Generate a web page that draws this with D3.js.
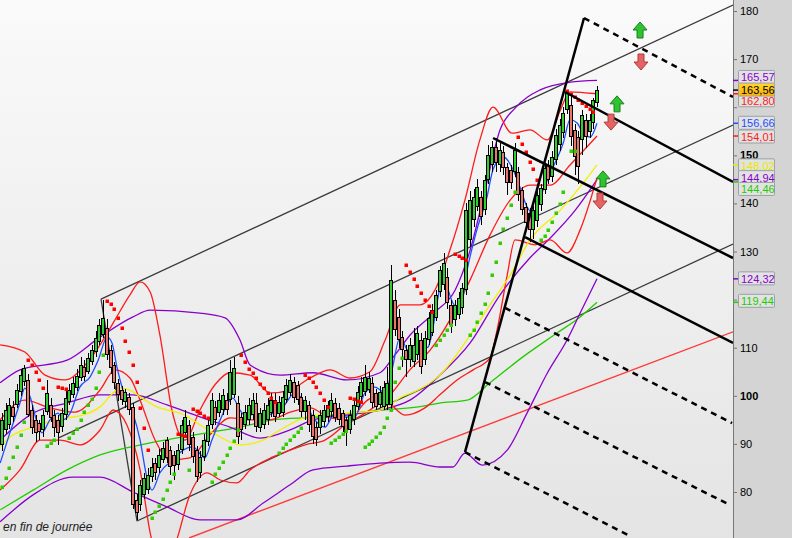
<!DOCTYPE html>
<html>
<head>
<meta charset="utf-8">
<script src="https://cdn.jsdelivr.net/npm/d3@7"></script>
<style>
  body { margin: 0; background: #fff; overflow: hidden; }
  svg { display: block; }
</style>
</head>
<body>
<div id="chart"></div>
<script>
// daily bars: [open, high, low, close]
var candles = [
  [89.8,96.5,88.5,94.9],[92.9,98.5,92.0,97.05],[94.0,99.5,93.0,98.1],[97.7,99.0,94.5,95.6],[98.1,102.5,97.5,101.2],
  [100.8,105.5,100.0,104.3],[102.9,106.4,102.0,105.8],[103.3,104.5,95.5,96.0],[97.05,98.0,92.0,93.3],[95.0,96.0,90.5,92.3],
  [94.3,95.0,90.8,92.5],[92.9,97.0,91.5,96.0],[96.6,103.3,96.0,100.6],[98.1,99.5,94.5,95.4],[96.0,97.0,91.5,93.3],
  [95.0,96.0,89.8,92.3],[93.5,97.5,92.5,96.4],[96.0,101.0,95.0,99.5],[98.7,102.5,98.0,101.2],[100.2,104.0,99.5,102.7],
  [101.6,105.5,101.0,104.1],[103.7,108.0,103.0,106.4],[106.0,107.5,103.0,103.9],[105.0,109.0,104.5,107.9],[107.0,110.5,106.5,109.5],
  [109.1,113.5,108.0,112.0],[111.2,116.0,110.5,114.7],[112.6,120.0,112.0,116.2],[114.1,116.0,107.5,108.5],[109.5,110.5,104.5,105.8],
  [106.4,107.0,101.5,102.7],[102.7,103.5,99.0,100.2],[101.2,102.0,98.0,99.1],[98.7,101.5,97.5,100.8],[99.7,100.5,96.0,97.05],
  [97.7,98.5,76.5,77.3],[78.3,79.5,74.2,75.6],[77.3,82.5,76.0,81.5],[79.4,84.0,78.5,82.9],[80.4,85.0,79.5,83.5],
  [83.1,87.0,82.0,85.2],[86.0,87.0,82.5,84.0],[85.0,89.0,84.0,87.7],[86.7,90.5,86.0,89.2],[90.8,91.5,86.0,87.1],
  [88.7,89.5,83.5,85.2],[87.7,88.5,82.5,85.4],[85.6,90.0,84.5,88.7],[88.7,95.0,88.0,93.9],[92.3,97.0,91.5,95.6],
  [93.9,95.0,88.5,89.8],[91.4,92.5,86.0,87.3],[88.7,89.5,82.0,83.1],[84.0,88.5,83.0,87.3],[87.3,92.0,86.5,90.8],
  [90.4,95.0,89.5,93.9],[93.9,100.5,93.0,99.1],[97.7,99.0,94.0,95.0],[96.4,100.5,95.5,99.1],[97.05,101.5,96.0,100.2],
  [99.1,100.5,96.0,97.05],[99.1,107.5,98.0,104.9],[100.2,108.1,99.5,105.8],[98.5,100.0,90.0,91.4],[95.6,96.5,90.8,92.9],
  [93.9,98.0,93.0,96.6],[95.0,99.5,94.0,98.1],[96.0,100.5,95.0,99.1],[98.5,100.5,92.5,93.5],[93.3,97.5,92.5,96.4],
  [93.9,98.5,93.0,97.05],[95.0,99.5,94.0,98.1],[96.4,100.5,95.5,99.1],[99.1,100.5,94.5,95.6],[96.2,100.0,95.5,98.7],
  [96.4,101.0,95.5,99.7],[99.1,103.5,98.5,102.3],[100.6,104.5,100.0,103.3],[102.9,104.0,98.5,99.5],[102.3,103.0,98.0,99.1],
  [99.7,100.5,95.5,96.6],[96.6,100.0,95.0,99.1],[98.1,99.0,92.5,93.9],[96.0,97.0,90.0,91.4],[93.5,94.5,89.5,90.8],
  [93.3,97.0,92.0,96.0],[94.5,98.0,93.5,97.05],[95.6,99.0,94.5,98.1],[96.6,100.5,95.5,99.1],[98.5,99.5,94.5,95.4],
  [97.5,98.5,94.0,95.0],[96.4,97.0,92.5,93.5],[95.0,95.5,89.5,92.3],[92.9,97.0,92.0,96.0],[95.0,99.0,94.0,98.1],
  [97.7,102.0,97.0,100.8],[99.7,104.0,99.0,102.9],[100.8,106.5,100.0,103.9],[101.2,105.0,100.5,103.7],[102.7,104.0,97.5,98.5],
  [100.6,101.5,97.0,97.7],[98.1,102.0,97.5,100.8],[97.7,103.0,97.0,101.8],[98.1,106.0,97.0,102.7],[98.1,127.2,97.0,124.1],
  [119.9,122.0,112.5,113.7],[116.4,118.0,110.0,111.6],[112.2,113.5,106.0,109.5],[109.5,110.5,104.0,107.4],[107.4,112.0,106.0,110.6],
  [107.0,114.0,106.0,110.6],[108.5,114.5,107.5,113.1],[111.6,113.0,104.5,106.0],[107.4,113.5,106.5,112.0],[111.6,117.5,110.5,116.2],
  [113.1,119.0,112.5,117.8],[116.2,122.0,115.5,121.0],[121.6,127.0,120.5,126.2],[123.0,129.7,122.0,127.6],[124.7,126.5,118.0,119.3],
  [118.9,120.0,113.0,114.7],[115.8,120.0,114.5,118.9],[116.8,121.5,116.0,120.3],[118.3,123.5,117.0,122.4],[122.0,140.0,121.0,138.6],
  [132.4,142.5,131.0,140.7],[136.5,143.0,135.0,141.3],[139.3,145.0,138.5,143.4],[141.3,142.5,135.5,137.2],[138.6,146.0,137.5,144.9],
  [144.9,152.2,144.0,150.1],[148.0,153.0,146.5,151.7],[151.7,153.5,146.5,148.4],[148.0,152.5,146.5,151.1],[150.7,152.0,146.0,147.4],
  [147.6,148.5,141.7,144.2],[146.9,148.0,143.0,144.2],[146.5,152.5,145.5,151.1],[146.5,147.5,140.5,141.7],[142.8,143.5,137.5,138.6],
  [139.3,140.0,134.5,136.0],[138.0,139.0,132.0,134.5],[134.5,139.5,132.5,138.6],[136.2,142.5,135.0,141.7],[139.7,144.0,138.5,143.2],
  [142.8,148.5,142.0,147.4],[148.0,149.0,144.0,144.9],[145.5,151.0,144.5,149.7],[149.0,155.5,148.0,154.2],[152.1,157.5,151.0,156.3],
  [154.6,160.0,153.5,158.8],[159.4,163.6,158.5,162.9],[160.5,162.5,152.0,153.8],[155.3,156.5,146.0,149.7],[153.8,155.0,144.0,147.6],
  [153.2,159.5,150.0,158.4],[157.3,158.5,151.5,153.8],[154.9,158.5,153.5,157.3],[156.7,162.0,155.5,161.5],[160.9,164.5,160.0,163.56]
];

// indicator curves: [bar, price]
var blueLine = [[-0.5,86.0],[2.1,92.3],[4.8,98.5],[6.1,101.6],[7.5,99.8],[9.4,94.4],[10.7,92.3],[12.8,95.0],[15.0,96.4],
  [16.3,95.0],[18.2,96.4],[20.8,101.8],[23.5,103.9],[25.7,107.4],[28.1,112.2],[29.4,111.0],[30.7,106.0],[32.3,101.2],
  [35.0,96.4],[36.9,90.8],[38.7,83.1],[40.1,80.4],[42.2,84.0],[45.7,86.7],[48.4,88.7],[51.0,89.4],[54.2,87.1],[56.1,90.8],
  [58.3,95.0],[61.7,99.5],[63.6,97.0],[65.5,95.6],[67.6,96.4],[69.8,95.6],[72.4,96.4],[75.1,97.7],[78.3,100.6],[81.0,98.5],
  [83.6,95.0],[86.3,93.5],[89.0,96.4],[91.7,95.6],[94.3,95.6],[97.0,100.6],[99.7,101.8],[102.4,100.6],[104.2,105.4],
  [106.4,112.2],[108.5,109.5],[111.2,109.5],[113.8,110.1],[117.9,124.1],[120.5,119.3],[122.4,117.8],[124.3,126.2],
  [126.9,134.5],[129.6,141.3],[131.2,147.0],[133.9,149.7],[136.6,147.0],[138.4,143.4],[140.3,139.3],[141.9,138.0],
  [144.6,142.8],[147.3,147.6],[150.0,152.6],[151.8,157.4],[153.7,156.7],[155.3,154.6],[157.2,153.8],[159,156.66]];
var yellowLine = [[-0.5,89.4],[2.1,91.4],[8.3,93.5],[12.8,94.6],[17.4,95.4],[21.6,96.0],[26.2,97.7],[29.7,100.6],[31.5,101.6],
  [34.2,101.2],[36.9,99.8],[41.4,97.7],[47.6,96.4],[56.4,92.3],[63.6,89.8],[69.8,90.8],[74.3,92.9],[83.1,96.0],[92.2,96.4],
  [101.0,97.0],[106.9,99.8],[111.2,101.2],[117.0,104.3],[125.1,112.6],[130.4,118.9],[135.8,125.1],[141.1,132.4],
  [149.2,138.6],[155.3,144.2],[159,148.02]];
var greenLine = [[-0.5,76.3],[8.3,80.4],[17.4,84.6],[26.2,87.7],[39.6,90.2],[54.8,92.3],[63.6,93.5],[72.4,95.0],[84.4,95.6],
  [93.5,96.4],[102.4,97.1],[111.2,97.7],[117.0,98.5],[124.3,99.1],[130.4,102.7],[139.2,108.1],[148.4,113.1],[154.5,116.4],
  [159,119.44]];
var purpleUp = [[-0.5,102.7],[4.8,105.4],[17.4,107.4],[26.2,112.2],[35.0,116.4],[39.6,117.8],[52.9,117.2],[59.6,116.2],
  [63.6,111.6],[66.3,106.4],[74.3,104.3],[83.1,104.8],[92.2,103.3],[101.0,104.8],[105.0,108.5],[109.0,112.6],[115.7,117.4],
  [121.1,122.0],[125.1,130.3],[129.1,142.8],[133.1,155.3],[137.1,159.8],[143.8,163.6],[151.8,165.2],[159,165.57]];
var purpleMid = [[-0.5,90.8],[8.3,96.4],[17.4,98.5],[26.2,100.2],[35.0,100.2],[44.1,98.1],[52.9,95.6],[60.9,93.5],
  [69.0,91.2],[77.0,92.9],[83.1,95.0],[92.2,96.0],[101.0,97.05],[109.0,99.1],[117.0,104.3],[125.1,111.0],[133.1,121.0],
  [141.1,128.7],[146.5,132.8],[153.2,138.6],[159,144.94]];
var purpleLow = [[-0.5,73.8],[8.3,79.4],[19.0,83.1],[26.2,83.1],[35.0,80.0],[44.1,76.9],[52.9,74.2],[62.8,74.2],[69.8,77.7],
  [77.0,81.5],[83.1,84.6],[92.2,85.4],[101.0,86.0],[109.0,86.2],[117.0,85.2],[120.5,85.2],[123.7,88.1],[128.3,85.6],
  [135.0,88.7],[140.3,96.4],[145.7,104.7],[151.0,111.6],[154.5,117.2],[159,124.32]];
var redUp = [[-0.5,110.6],[6.1,109.1],[11.5,104.3],[16.8,103.3],[22.2,106.4],[26.2,110.6],[30.2,115.8],[34.2,121.0],
  [36.9,123.7],[39.6,121.6],[42.2,112.6],[45.4,97.05],[48.9,90.8],[52.9,97.05],[56.9,102.3],[60.9,104.8],[66.3,104.3],
  [71.6,100.6],[77.0,101.2],[82.3,103.7],[87.7,105.4],[93.0,103.7],[98.3,105.0],[102.4,111.6],[106.4,118.9],[111.7,118.9],
  [115.7,122.0],[119.7,130.3],[123.7,140.7],[127.7,153.2],[131.2,160.0],[136.3,154.6],[141.1,155.3],[145.7,153.2],
  [149.2,159.4],[151.8,163.2],[155.8,163.0],[159,162.80]];
var redMid = [[-0.5,95.0],[6.1,99.1],[12.8,97.5],[19.5,96.6],[26.2,101.2],[30.2,105.4],[34.2,103.7],[36.9,99.1],[40.9,90.8],
  [44.9,86.7],[50.2,87.1],[55.6,91.9],[60.9,95.4],[66.3,95.0],[71.6,95.0],[77.0,96.6],[82.3,97.5],[87.7,95.4],[93.0,95.0],
  [98.3,97.05],[103.7,100.2],[109.0,105.4],[114.4,109.5],[119.7,115.8],[125.1,124.1],[130.4,133.4],[135.8,140.7],
  [141.1,143.8],[146.5,143.8],[151.8,148.0],[159,154.01]];
var redLow = [[-0.5,80.4],[4.8,84.6],[10.2,90.8],[15.5,90.8],[20.8,89.8],[26.2,92.9],[29.7,97.05],[33.4,93.9],[36.9,84.6],
  [39.6,71.5],[42.2,64.8],[46.2,69.0],[50.2,79.4],[54.8,84.0],[58.3,82.5],[62.8,81.9],[66.3,84.6],[72.4,87.3],[77.0,88.7],
  [81.0,89.8],[86.3,90.8],[93.5,95.4],[98.9,99.5],[102.4,99.1],[107.7,96.0],[113.0,97.5],[117.0,100.2],[121.6,103.3],
  [125.9,105.4],[130.4,107.9],[132.3,113.7],[135.0,125.1],[137.1,132.4],[142.5,131.4],[146.5,132.4],[151.0,129.7],
  [154.5,134.5],[159,145.3]];

// parabolic stop dots: [bar, price]
var sarGreen = [[0,81.0],[1,82.9],[2,85.0],[3,87.3],[4,89.4],[5,91.9],[6,94.6],[12,89.6],[13,90.2],[14,90.8],
  [18,91.2],[19,92.3],[20,93.1],[21,95.0],[22,96.6],[23,98.1],[24,99.3],[25,101.6],[26,104.9],[27,108.5],
  [40,74.6],[41,75.8],[42,77.1],[43,78.5],[44,80.4],[45,82.1],[46,83.7],[50,84.5],
  [56,82.1],[57,83.7],[58,85.0],[59,86.2],[60,87.7],[61,89.2],[62,90.6],[63,92.9],
  [74,88.1],[75,89.2],[76,90.0],[77,90.8],[78,91.6],[79,92.4],[80,93.3],[88,90.2],[89,90.8],[90,91.4],[91,92.1],[92,92.7],
  [97,89.4],[98,90.0],[99,90.6],[100,91.4],[101,92.3],[102,93.6],[103,95.4],[104,97.1],[105,102.9],[106,105.8],[107,107.9],
  [116,110.6],[117,111.6],[118,112.6],[119,113.7],[120,114.7],
  [125,112.6],[126,113.7],[127,115.4],[128,117.2],[129,119.1],[130,121.4],[131,125.1],[132,127.8],[133,131.8],[134,134.7],
  [135,136.9],[136,139.7],[137,142.4],[144,132.4],[145,133.2],[146,134.5],[147,136.1],[148,138.0],[149,139.9],[150,142.4],
  [152,150.9],[153,150.9]];
var sarRed = [[7,107.5],[8,106.4],[9,104.9],[10,103.3],[11,101.6],[15,101.8],[16,101.6],[17,101.4],
  [28,119.7],[29,119.1],[30,118.0],[31,116.2],[32,114.1],[33,111.4],[34,109.1],[35,106.4],[36,102.9],[37,97.5],[38,93.3],[39,88.7],
  [47,92.1],[48,91.9],[49,91.7],[51,97.3],[52,96.9],[53,96.4],[54,95.8],[55,95.4],
  [64,108.5],[65,107.0],[66,105.6],[67,104.8],[68,103.7],[69,102.5],[70,101.6],[71,100.6],[72,99.6],[73,98.7],
  [81,104.3],[82,103.7],[83,102.9],[84,101.8],[85,100.6],[86,99.1],[87,97.7],[93,99.5],[94,99.3],[95,99.0],[96,98.7],
  [108,127.2],[109,125.7],[110,124.3],[111,122.8],[112,121.4],[113,119.9],[114,118.7],[115,117.4],
  [121,129.5],[122,129.1],[123,128.7],[124,128.3],
  [138,153.8],[139,152.4],[140,150.7],[141,148.6],[142,147.2],[143,144.9],
  [151,163.4],[152,162.7],[153,162.1],[154,161.5],[155,160.9],[156,160.3],[157,159.6],[158,159.0]];

// drawn trend tools: pairs of [bar, price]
var thinLines = [
  [[26.46,120.1],[195.35,181.25]],
  [[14.97,91.2],[195.35,156.3]],
  [[36.08,73.97],[195.35,131.56]],
  [[26.46,120.1],[36.08,73.97]]
];
var redTrend = [[49.97,70.44],[195.35,113.3]];
var forkSolid = [
  [[123.73,88.3],[155.53,178.55]],
  [[150.46,163.16],[195.35,144.45]],
  [[131.22,153.6],[195.35,128.65]],
  [[139.77,133.0],[195.35,110.98]]
];
var forkDashed = [
  [[155.53,178.55],[195.35,162.12]],
  [[134.42,118.26],[195.09,94.34]],
  [[129.08,102.87],[194.55,77.3]],
  [[123.73,88.3],[167.29,71.06]]
];

// alert arrows: up arrows above the lines, down arrows below
var alertUpBar = [170.5, 164.35, 160.6];
var alertUp = [176.05, 160.7, 145.1];
var alertDownBar = [170.76, 162.75, 159.8];
var alertDown = [169.4, 156.9, 140.5];

var priceTicks = [80, 90, 100, 110, 120, 130, 140, 150, 160, 170, 180];
var hiddenTicks = [120, 160];
var boldTicks = [100, 150];

// last values on the right scale, in drawing order
var lastVals = [124.32, 119.44, 156.66, 154.01, 148.02, 144.94, 144.46, 165.57, 162.80, 163.56];
var lastColors = ["#8800cc", "#22cc00", "#1f4fff", "#ff1a1a", "#e8e800", "#8800cc", "#22cc00", "#8800cc", "#ff1a1a", "#000000"];
var lastShift = [0, -1, 0, 1, 1, -2, 7.5, -3, 7, 0];

var W = 792, H = 538, plotW = 733;
var svg = d3.select("#chart").append("svg")
  .attr("width", W)
  .attr("height", H)
  .style("font-family", "'Liberation Sans', Arial, sans-serif");

var x = d3.scaleLinear().domain([0, candles.length - 1]).range([2, 597]);
var y = d3.scaleLinear().domain([70.44, 182.29]).range([538, 0]);

var defs = svg.append("defs");
var bg = defs.append("linearGradient").attr("id", "bg").attr("x1", 0).attr("y1", 0).attr("x2", 0).attr("y2", 1);
bg.append("stop").attr("offset", "0%").attr("stop-color", "#fafafa");
bg.append("stop").attr("offset", "100%").attr("stop-color", "#e4e4e4");
var gold = defs.append("linearGradient").attr("id", "gold").attr("x1", 0).attr("y1", 0).attr("x2", 0).attr("y2", 1);
gold.append("stop").attr("offset", "0%").attr("stop-color", "#ffd633");
gold.append("stop").attr("offset", "100%").attr("stop-color", "#ffb300");
defs.append("clipPath").attr("id", "plot").append("rect")
  .attr("x", 0).attr("y", 0).attr("width", plotW).attr("height", H);

// backgrounds
svg.append("rect").attr("x", 0).attr("y", 0).attr("width", plotW).attr("height", H).attr("fill", "url(#bg)");
svg.append("rect").attr("x", plotW).attr("y", 0).attr("width", W - plotW).attr("height", H).attr("fill", "#d4d4d4");

var plot = svg.append("g").attr("clip-path", "url(#plot)");

function seg(pts) {
  return d3.line().x(function(d) { return x(d[0]); }).y(function(d) { return y(d[1]); })(pts);
}
var curve = d3.line()
  .x(function(d) { return x(d[0]); })
  .y(function(d) { return y(d[1]); })
  .curve(d3.curveMonotoneX);

// thin channel
thinLines.forEach(function(l) {
  plot.append("path").attr("d", seg(l))
    .attr("fill", "none").attr("stroke", "#3a3a3a").attr("stroke-width", 1.3);
});
plot.append("path").attr("d", seg(redTrend))
  .attr("fill", "none").attr("stroke", "#ff3a3a").attr("stroke-width", 1.4);

// indicators
var curves = [
  [greenLine, "#22cc00"], [purpleLow, "#8800cc"], [purpleMid, "#8800cc"], [purpleUp, "#8800cc"],
  [redLow, "#ff1a1a"], [redUp, "#ff1a1a"], [redMid, "#ff1a1a"], [yellowLine, "#f0f000"], [blueLine, "#1f4fff"]
];
curves.forEach(function(c) {
  plot.append("path").attr("d", curve(c[0]))
    .attr("fill", "none").attr("stroke", c[1]).attr("stroke-width", 1.3);
});

// candles
var bars = plot.append("g").attr("shape-rendering", "crispEdges")
  .selectAll("g").data(candles).enter().append("g");
function left(i) { return Math.round(x(i)) - 2; }
bars.append("line")
  .attr("x1", function(d, i) { return left(i) + 2.5; })
  .attr("x2", function(d, i) { return left(i) + 2.5; })
  .attr("y1", function(d) { return Math.round(y(d[1])); })
  .attr("y2", function(d) { return Math.round(y(d[2])); })
  .attr("stroke", "#000").attr("stroke-width", 1);
bars.append("rect")
  .attr("x", function(d, i) { return left(i); })
  .attr("y", function(d) { return Math.round(y(Math.max(d[0], d[3]))); })
  .attr("width", 4)
  .attr("height", function(d) { return Math.max(3, Math.round(Math.abs(y(d[0]) - y(d[3])))); })
  .attr("fill", "#000");
bars.append("rect")
  .attr("x", function(d, i) { return left(i) + 1; })
  .attr("y", function(d) { return Math.round(y(Math.max(d[0], d[3]))) + 1; })
  .attr("width", 2)
  .attr("height", function(d) { return Math.max(1, Math.round(Math.abs(y(d[0]) - y(d[3]))) - 2); })
  .attr("fill", function(d) { return d[3] >= d[0] ? "#33cc33" : "#e8766a"; });

// stop dots
plot.selectAll(".sg").data(sarGreen).enter().append("rect")
  .attr("x", function(d) { return Math.round(x(d[0])) - 1.5; }).attr("y", function(d) { return Math.round(y(d[1])) - 1.5; })
  .attr("width", 3.5).attr("height", 3.5).attr("fill", "#33cc00");
plot.selectAll(".sr").data(sarRed).enter().append("rect")
  .attr("x", function(d) { return Math.round(x(d[0])) - 1.5; }).attr("y", function(d) { return Math.round(y(d[1])) - 1.5; })
  .attr("width", 3.5).attr("height", 3.5).attr("fill", "#ff0000");

// fork
forkSolid.forEach(function(l) {
  plot.append("path").attr("d", seg(l))
    .attr("fill", "none").attr("stroke", "#000").attr("stroke-width", 2.5);
});
forkDashed.forEach(function(l) {
  plot.append("path").attr("d", seg(l))
    .attr("fill", "none").attr("stroke", "#000").attr("stroke-width", 2.5)
    .attr("stroke-dasharray", "6,5");
});

// alert arrows
function arrow(cx, cy, up) {
  var s = up ? -1 : 1;
  return "M" + (cx - 7) + "," + (cy) + "L" + cx + "," + (cy + s * 8) + "L" + (cx + 7) + "," + (cy) +
    "L" + (cx + 3) + "," + (cy) + "L" + (cx + 3) + "," + (cy - s * 8) + "L" + (cx - 3) + "," + (cy - s * 8) +
    "L" + (cx - 3) + "," + (cy) + "Z";
}
alertUpBar.forEach(function(b, i) {
  plot.append("path").attr("d", arrow(x(b), y(alertUp[i]), true))
    .attr("fill", "#2fc42f").attr("stroke", "#1a7f1a").attr("stroke-width", 1);
});
alertDownBar.forEach(function(b, i) {
  plot.append("path").attr("d", arrow(x(b), y(alertDown[i]), false))
    .attr("fill", "#e46464").attr("stroke", "#b03a3a").attr("stroke-width", 1);
});

// right scale
var axis = svg.append("g").attr("transform", "translate(" + plotW + ",0)")
  .call(d3.axisRight(y).tickValues(priceTicks).tickSize(4).tickPadding(3).tickFormat(d3.format("d")));
axis.select(".domain").attr("stroke", "#777").attr("d", "M0.5,0V" + H);
axis.selectAll(".tick line").attr("stroke", "#777");
axis.selectAll(".tick text")
  .attr("font-size", 11).attr("fill", "#000")
  .attr("font-family", "'Liberation Sans', Arial, sans-serif")
  .attr("font-weight", function(d) { return boldTicks.indexOf(d) >= 0 ? "bold" : "normal"; });
// labels covered by the value boxes
axis.selectAll(".tick text").filter(function(d) { return hiddenTicks.indexOf(d) >= 0; }).remove();

// last value boxes
var fmt = function(v) { return d3.format(".2f")(v).replace(".", ","); };
lastVals.forEach(function(v, i) {
  var cy = y(v) + lastShift[i];
  var last = lastColors[i] === "#000000";
  svg.append("line").attr("x1", plotW).attr("x2", plotW + 5).attr("y1", y(v)).attr("y2", y(v))
    .attr("stroke", last ? "#000" : lastColors[i]).attr("stroke-width", 1.5);
  svg.append("rect").attr("x", 738.5).attr("y", cy - 7).attr("width", 36).attr("height", 13).attr("rx", 1)
    .attr("fill", last ? "url(#gold)" : "#e2e2e2").attr("stroke", "#98a2a8");
  svg.append("text").attr("x", 741).attr("y", cy + 4).attr("font-size", 11)
    .attr("fill", lastColors[i]).text(fmt(v));
});

svg.append("text").attr("x", 3).attr("y", 531).attr("font-size", 12).attr("font-style", "italic")
  .attr("fill", "#222").text("en fin de journée");
</script>
</body>
</html>
